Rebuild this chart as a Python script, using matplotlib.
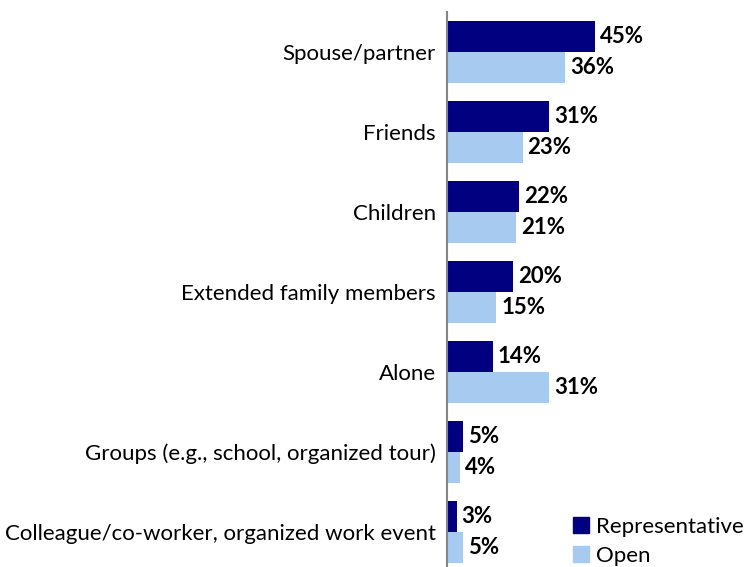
import matplotlib.pyplot as plt
from matplotlib.patches import Patch

categories = [
    "Spouse/partner",
    "Friends",
    "Children",
    "Extended family members",
    "Alone",
    "Groups (e.g., school, organized tour)",
    "Colleague/co-worker, organized work event",
]
representative = [45, 31, 22, 20, 14, 5, 3]
open_link = [36, 23, 21, 15, 31, 4, 5]
series_names = ["Representative", "Open"]

DARK = "#000080"
LIGHT = "#A6CAF0"
FONT = "Lato"
FS = 16

W, H = 744, 567
fig = plt.figure(figsize=(W / 100, H / 100), dpi=100)
ax = fig.add_axes([447 / W, -5 / H, (W - 447) / W, 560 / H])

bh = 0.3875
ys = list(range(len(categories)))
ax.barh([y - bh / 2 for y in ys], representative, height=bh, color=DARK)
ax.barh([y + bh / 2 for y in ys], open_link, height=bh, color=LIGHT)

for y, v in zip(ys, representative):
    ax.annotate(f"{v}%", (v, y - bh / 2), xytext=(3.5, 0), textcoords="offset points",
                va="center", ha="left", fontsize=FS, fontweight="bold", family=FONT)
for y, v in zip(ys, open_link):
    ax.annotate(f"{v}%", (v, y + bh / 2), xytext=(3.5, 0), textcoords="offset points",
                va="center", ha="left", fontsize=FS, fontweight="bold", family=FONT)

ax.set_ylim(len(categories) - 0.5, -0.5)
ax.set_xlim(0, (W - 447) / 3.29)
ax.set_yticks(ys)
ax.set_yticklabels(categories, fontsize=FS, family=FONT)
ax.tick_params(axis="y", length=0, pad=8)
ax.set_xticks([])
for s in ["top", "right", "bottom"]:
    ax.spines[s].set_visible(False)
ax.spines["left"].set_color("#868686")
ax.spines["left"].set_linewidth(1.5)

handles = [Patch(color=DARK), Patch(color=LIGHT)]
fig.legend(handles, series_names, loc="upper left",
           bbox_to_anchor=(573 / W, 1 - 517 / H), frameon=False,
           prop={"family": FONT, "size": FS}, handlelength=0.7, handleheight=0.7,
           handletextpad=0.35, labelspacing=0.4, borderpad=0, borderaxespad=0)

fig.savefig("out.png", dpi=100)
